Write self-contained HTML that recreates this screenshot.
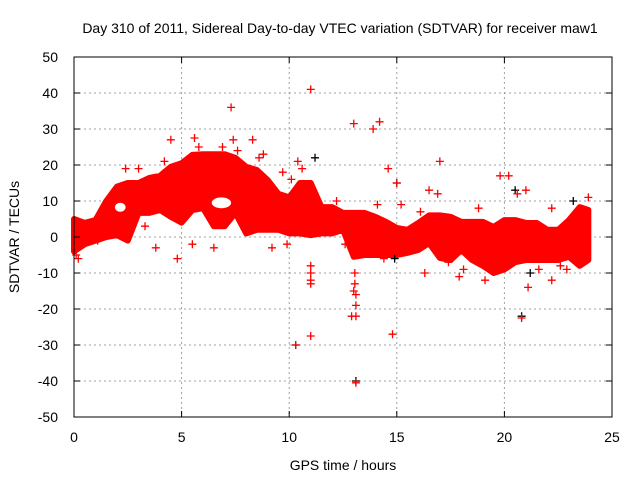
<!DOCTYPE html>
<html><head><meta charset="utf-8"><style>
body{margin:0;background:#fff}
svg{display:block;font-family:"Liberation Sans",sans-serif}
</style></head><body>
<svg id="chart" width="640" height="480">
<text x="340" y="33" text-anchor="middle" font-size="14">Day 310 of 2011, Sidereal Day-to-day VTEC variation (SDTVAR) for receiver maw1</text>
<g id="grid"></g>
<g id="marks"></g>
<g id="axes"></g>
<text x="343" y="470" text-anchor="middle" font-size="14">GPS time / hours</text>
<text transform="translate(19,237) rotate(-90)" text-anchor="middle" font-size="14">SDTVAR / TECUs</text>
</svg>
<script>
const bandT=[0,0.5,1,1.5,2,2.5,3,3.5,4,4.5,5,5.5,6,6.5,7,7.5,8,8.5,9,9.5,10,10.5,11,11.5,12,12.5,13,13.5,14,14.5,15,15.5,16,16.5,17,17.5,18,18.5,19,19.5,20,20.5,21,21.5,22,22.5,23,23.5,23.9];
const bandHi=[5,3.9,4.7,10,14,15,15,16.4,17,19.5,20.5,22.8,23,23,23,22,19.5,18.6,15.8,12,11,15,15,8.3,8.3,6.7,6.7,6.7,5.6,4.2,2.5,2,3.9,6,6,5.6,4.2,4.2,4.2,2.8,4.7,4.7,3.9,3.9,2,2,4.7,8.3,7.5];
const bandLo=[-4,-2,-1,0,0.5,-1,6.7,6.7,7.5,5.6,4,7.5,8,3,3,6.7,1,2,2,2,1,1,0.5,1,1,2,-5.5,-5,-5,-5,-5,-4.4,-3.6,-1.7,-5.8,-6.4,-3.6,-6.4,-8,-10,-9,-7,-6.4,-6.4,-6.4,-6.4,-5.5,-8,-6.4];
const holeT0=[1.9,6.4];
const holeT1=[2.4,7.3];
const holeLo=[7,8];
const holeHi=[9.5,11];
const redT=[7.3,11,13,13.9,14.2,10.3,11,14.8,13.1,20.8,17,14.6,19.8,20.2,22.2,4.5,5.6,2.4,3,4.8,9.2,6.5,5.5,12.9,13,11,15,17.9,21.1,23.9,22.2,16.3,16.5,19.5,21,10.4,10.6,8.3,7.4,13.05,13.05,13.1,13.1,13.1,11,11,11,0.1,0.2,2.5,3.3,4.2,5.8,9.7,10.1,12.2,14.4,15.2,18.1,19.3,20.6,22.6,23.3,1.1,8.8,16.9,18.8,6.9,7.6,8.6,9.9,12.6,14.1,16.1,17.4,19.1,21.6,22.9,3.8,1.7];
const redV=[36,41,31.5,30,32,-30,-27.5,-27,-40.5,-22.5,21,19,17,17,-12,27,27.5,19,19,-6,-3,-3,-2,-22,-15,-13,15,-11,-14,11,8,-10,13,-9,13,21,19,27,27,-10,-13,-16,-19,-22,-8,-10,-12,-5,-6,0,3,21,25,18,16,10,-6,9,-9,-7,12,-8,-2,-1,23,12,8,25,24,22,-2,-2,9,7,-7,-12,-9,-9,-3,5];
const blackT=[11.2,13.1,10.3,23.2,15,20.8,20.5,21.2,14.9];
const blackV=[22,-40,-30,10,15,-22,13,-10,-6];
const xTicks=[0,5,10,15,20,25];
const yTicks=[-50,-40,-30,-20,-10,0,10,20,30,40,50];

const L=74,R=612,T=57,B=417;
const xs=t=>L+(t-0)/25*(R-L);
const ys=v=>B-(v+50)/100*(B-T);
const NS='http://www.w3.org/2000/svg';
function mk(tag,attrs,parent){const e=document.createElementNS(NS,tag);for(const k in attrs)e.setAttribute(k,attrs[k]);parent.appendChild(e);return e;}
const grid=document.getElementById('grid'),marks=document.getElementById('marks'),axes=document.getElementById('axes');
xTicks.forEach(t=>{
  if(t>0&&t<25){const g=mk('line',{x1:xs(t),x2:xs(t),y1:T,y2:B,stroke:'#a0a0a0','stroke-dasharray':'2,3'},grid);
  
  }
  const tk=mk('line',{x1:xs(t),x2:xs(t),y1:B,y2:B-6,stroke:'#000'},axes);
  
  
  const tk2=mk('line',{x1:xs(t),x2:xs(t),y1:T,y2:T+6,stroke:'#000'},axes);
  
  
  const lb=mk('text',{x:xs(t),y:B+25,'text-anchor':'middle','font-size':14},axes);lb.textContent=t;
  
  
});
yTicks.forEach(v=>{
  if(v>-50&&v<50){const g=mk('line',{x1:L,x2:R,y1:ys(v),y2:ys(v),stroke:'#a0a0a0','stroke-dasharray':'2,3'},grid);
  
  }
  const tk=mk('line',{x1:L,x2:L+6,y1:ys(v),y2:ys(v),stroke:'#000'},axes);
  
  
  const tk2=mk('line',{x1:R,x2:R-6,y1:ys(v),y2:ys(v),stroke:'#000'},axes);
  
  
  const lb=mk('text',{x:L-16,y:ys(v)+5,'text-anchor':'end','font-size':14},axes);lb.textContent=v;
  
  
});
const frame=mk('rect',{x:L,y:T,width:R-L,height:B-T,fill:'none',stroke:'#000'},axes);



let d='';
bandT.forEach((t,i)=>{d+=(i?'L':'M')+xs(t)+','+ys(bandHi[i]);});
for(let i=bandT.length-1;i>=0;i--)d+='L'+xs(bandT[i])+','+ys(bandLo[i]);
const band=mk('path',{d:d+'Z',fill:'#ff0000',stroke:'#ff0000','stroke-width':6,'stroke-linejoin':'round'},marks);


holeT0.forEach((t0,i)=>{
  const h=mk('ellipse',{cx:(xs(t0)+xs(holeT1[i]))/2,cy:(ys(holeLo[i])+ys(holeHi[i]))/2,rx:(xs(holeT1[i])-xs(t0))/2,ry:(ys(holeLo[i])-ys(holeHi[i]))/2,fill:'#fff'},marks);
  
  
});
function plus(t,v,col,name){
  const x=xs(t),y=ys(v);
  const p=mk('path',{d:`M${x-4},${y}H${x+4}M${x},${y-4}V${y+4}`,stroke:col,'stroke-width':1.3},marks);
  
  
}
blackT.forEach((t,i)=>plus(t,blackV[i],'#000','black-point'));
redT.forEach((t,i)=>plus(t,redV[i],'#ff0000','red-point'));
</script>
</body></html>
